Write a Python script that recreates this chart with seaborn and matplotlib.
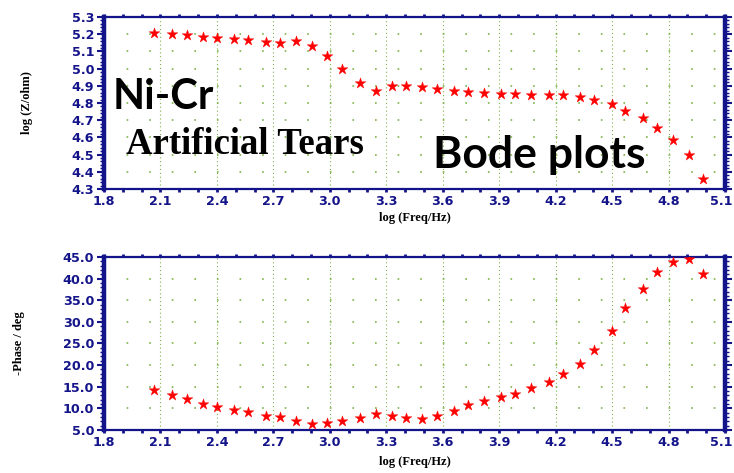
import numpy as np
import pandas as pd
import matplotlib
matplotlib.use('Agg')
import matplotlib.pyplot as plt
import matplotlib.transforms as mtransforms
from matplotlib.ticker import MultipleLocator, FormatStrFormatter
import seaborn as sns

# Ni-Cr in artificial tears, Bode plots
log_freq = [2.066, 2.161, 2.243, 2.326, 2.400, 2.490, 2.565, 2.659, 2.737, 2.819,
            2.905, 2.985, 3.065, 3.162, 3.244, 3.329, 3.405, 3.490, 3.568, 3.661,
            3.736, 3.821, 3.908, 3.982, 4.067, 4.164, 4.240, 4.329, 4.405, 4.498,
            4.570, 4.662, 4.738, 4.822, 4.908, 4.984]
log_z = [5.205, 5.200, 5.197, 5.185, 5.180, 5.170, 5.165, 5.155, 5.150, 5.160,
         5.133, 5.075, 4.996, 4.916, 4.872, 4.899, 4.897, 4.891, 4.881, 4.872,
         4.866, 4.860, 4.854, 4.850, 4.845, 4.845, 4.847, 4.837, 4.820, 4.792,
         4.753, 4.711, 4.653, 4.587, 4.496, 4.358]
neg_phase = [14.3, 13.1, 12.1, 11.0, 10.3, 9.7, 9.1, 8.3, 8.0, 7.0,
             6.5, 6.6, 7.1, 7.7, 8.8, 8.3, 7.85, 7.6, 8.3, 9.5,
             10.8, 11.8, 12.6, 13.3, 14.6, 16.0, 17.9, 20.2, 23.6, 27.8,
             33.2, 37.7, 41.5, 43.9, 44.5, 41.1]

df = pd.DataFrame({'logf': log_freq, 'logz': log_z, 'phase': neg_phase})

sns.set_style('white')
navy = '#14148a'
grid_green = '#7fb24a'

fig = plt.figure(figsize=(7.34, 4.73), dpi=100)
ax1 = fig.add_axes([0.1417, 0.6004, 0.846, 0.3636])
ax2 = fig.add_axes([0.1417, 0.0909, 0.846, 0.3658])


def style_axis(ax, ymin, ymax, ystep, yminor, fmt, ylabel, ylab_x):
    ax.set_xlim(1.8, 5.1)
    ax.set_ylim(ymin, ymax)
    ax.xaxis.set_major_locator(MultipleLocator(0.3))
    ax.xaxis.set_minor_locator(MultipleLocator(0.1))
    ax.yaxis.set_major_locator(MultipleLocator(ystep))
    ax.yaxis.set_minor_locator(MultipleLocator(yminor))
    ax.xaxis.set_major_formatter(FormatStrFormatter('%.1f'))
    ax.yaxis.set_major_formatter(FormatStrFormatter(fmt))
    # vertical dotted grid at majors, dotted rows at y majors
    ax.grid(False)
    for xv in np.arange(2.1, 5.0, 0.3):
        ax.axvline(xv, color=grid_green, lw=0.8, ls=(0, (1, 2.5)), zorder=0)
    for yv in np.arange(ymin + ystep, ymax - ystep / 2, ystep):
        ax.axhline(yv, color=grid_green, lw=1.2, ls=(0, (1, 12.55)), zorder=0)
    for side in ['left', 'right']:
        ax.spines[side].set_color(navy)
        ax.spines[side].set_linewidth(3.2)
    for side in ['top', 'bottom']:
        ax.spines[side].set_color(navy)
        ax.spines[side].set_linewidth(1.6)
    ax.tick_params(axis='both', which='both', direction='out', color=navy)
    ax.tick_params(axis='x', which='both', top=True, bottom=True,
                   labeltop=False, length=2.5, width=2)
    ax.tick_params(axis='y', which='major', left=True, right=True,
                   labelright=False, length=5, width=1.5)
    ax.tick_params(axis='y', which='minor', left=True, right=True,
                   length=3, width=1)
    ax.tick_params(axis='both', which='major', labelcolor=navy,
                   labelsize=9.2, pad=2)
    for lab in ax.get_xticklabels() + ax.get_yticklabels():
        lab.set_fontweight('bold')
    # last x label sits on the figure edge; nudge it in a little
    fig.canvas.draw()
    last = [t for t in ax.get_xticklabels() if t.get_text() == '5.1']
    for t in last:
        t.set_transform(t.get_transform() + mtransforms.ScaledTranslation(
            -4 / 100, 0, fig.dpi_scale_trans))
    ax.set_xlabel('log (Freq/Hz)', fontfamily='Liberation Serif',
                  fontweight='bold', fontsize=9, color='black')
    ax.set_ylabel(ylabel, fontfamily='Liberation Serif',
                  fontweight='bold', fontsize=9, color='black')
    ax.yaxis.set_label_coords(ylab_x, 0.5)


sns.scatterplot(data=df, x='logf', y='logz', ax=ax1, marker='*', s=65,
                color='red', edgecolor='red', linewidth=0.3, zorder=3)
sns.scatterplot(data=df, x='logf', y='phase', ax=ax2, marker='*', s=65,
                color='red', edgecolor='red', linewidth=0.3, zorder=3)

style_axis(ax1, 4.3, 5.3, 0.1, 0.02, '%.1f', 'log (Z/ohm)', -0.114)
style_axis(ax2, 5.0, 45.0, 5.0, 1.0, '%.1f', '-Phase / deg', -0.127)
ax1.xaxis.set_label_coords(0.5, -0.134)
ax2.xaxis.set_label_coords(0.5, -0.150)

fig.text(0.154, 0.7696, 'Ni-Cr', fontfamily='Lato', fontweight='bold',
         fontsize=30, va='baseline', ha='left', color='black')
fig.text(0.1717, 0.6744, 'Artificial Tears', fontfamily='Liberation Serif',
         fontweight='bold', fontsize=26.5, va='baseline', ha='left',
         color='black')
fig.text(0.59, 0.6448, 'Bode plots', fontfamily='Lato', fontweight='bold',
         fontsize=32, va='baseline', ha='left', color='black')

fig.savefig('out.png', dpi=100)
